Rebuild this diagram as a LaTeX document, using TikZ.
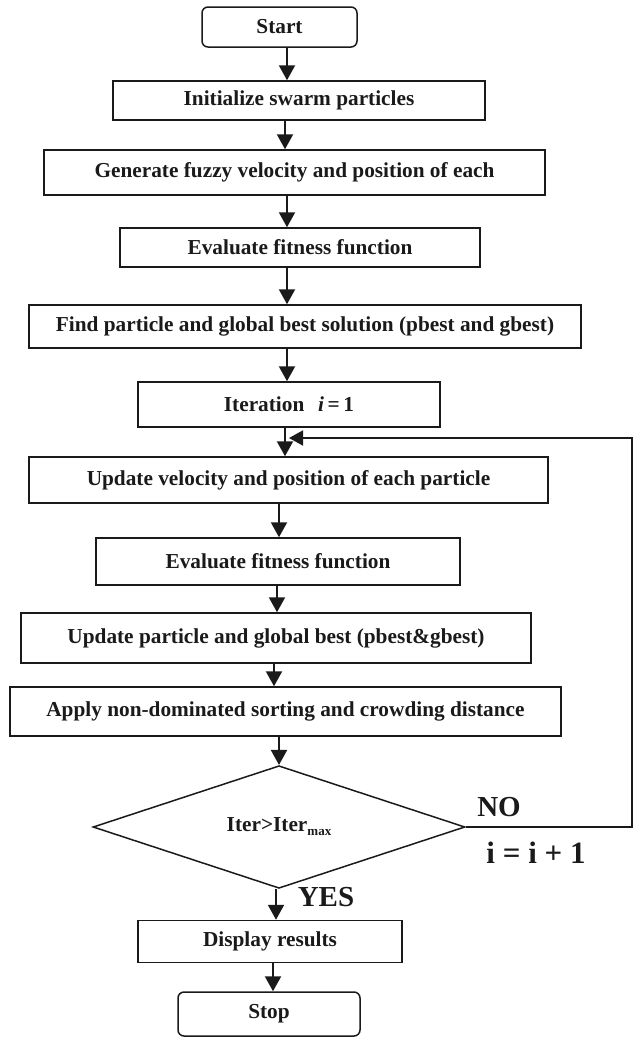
\documentclass[tikz,border=0pt]{standalone}
\usepackage{fontspec}
\setmainfont{Liberation Serif}
\usepackage{tikz}
\usetikzlibrary{arrows.meta,positioning,shapes.geometric}
\definecolor{fcink}{HTML}{1A1A1A}
\tikzset{
  procbox/.style={draw=fcink,line width=1.5pt,inner sep=0pt,text=fcink,
    font=\fontsize{21.3}{24}\selectfont\bfseries},
  termbox/.style={procbox,rounded corners=6pt},
  decbox/.style={procbox,diamond,minimum width=372pt,minimum height=104pt},
  flowarr/.style={-{Triangle[width=16pt,length=15pt]},fcink,line width=2.2pt},
  looparr/.style={-{Triangle[width=15pt,length=14pt]},fcink,line width=1.7pt},
  tag/.style={inner sep=0pt,text=fcink,font=\fontsize{29}{31}\selectfont\bfseries}
}

\begin{document}
\begin{tikzpicture}[x=1pt,y=-1pt]
\useasboundingbox (0,0) rectangle (634,1037);
\node[termbox,minimum width=155pt,minimum height=40pt] (start) at (279.5,27) {Start};
\node[procbox,minimum width=372pt,minimum height=39pt] (init) at (299,100.5)
  {Initialize swarm particles};
\node[procbox,minimum width=501pt,minimum height=45pt] (gen) at (294.5,172.5)
  {Generate fuzzy velocity and position of each};
\node[procbox,minimum width=360pt,minimum height=39pt] (eval) at (300,247.5)
  {Evaluate fitness function};
\node[procbox,minimum width=552pt,minimum height=43pt] (find) at (305,326.5)
  {Find particle and global best solution (pbest and gbest)};
\node[procbox,minimum width=302pt,minimum height=45pt] (iter) at (289,404.5)
  {Iteration\hspace{0.65em}{\itshape i}\,=\,1};
\node[procbox,minimum width=519pt,minimum height=46pt] (updvel) at (288.5,480)
  {Update velocity and position of each particle};
\node[procbox,minimum width=364pt,minimum height=47pt] (evaltwo) at (278,561.5)
  {Evaluate fitness function};
\node[procbox,minimum width=510pt,minimum height=50pt] (updpart) at (276,638)
  {Update particle and global best (pbest\&gbest)};
\node[procbox,minimum width=551pt,minimum height=49pt] (apply) at (285.5,711.5)
  {Apply non-dominated sorting and crowding distance};
\node[decbox] (dec) at (279,827)
  {Iter>Iter\raisebox{-4pt}{\fontsize{13}{14}\selectfont max}};
\node[procbox,minimum width=264pt,minimum height=42pt] (disp) at (270,941.5)
  {Display results};
\node[termbox,minimum width=182pt,minimum height=44pt] (stop) at (269,1014) {Stop};
% straight flow
\foreach \a/\b/\x in {start/init/287,init/gen/285,gen/eval/287,eval/find/287,
  find/iter/287,iter/updvel/285,updvel/evaltwo/279,evaltwo/updpart/277,
  updpart/apply/274,apply/dec/279,dec/disp/276,disp/stop/273}
  \draw[flowarr] (\a.south -| \x,0) -- (\b.north -| \x,0);
% back loop
\coordinate (loopturn) at (632,438);
\coordinate (loopend) at (289,438);
\draw[looparr] (dec.east) -| (loopturn) -- (loopend);
\node[tag] (nolbl) at (499,807) {NO};
\node[tag,font=\fontsize{31}{33}\selectfont\bfseries] (inclbl) at (536,853) {i = i + 1};
\node[tag] (yeslbl) at (326,897) {YES};
\end{tikzpicture}
\end{document}
